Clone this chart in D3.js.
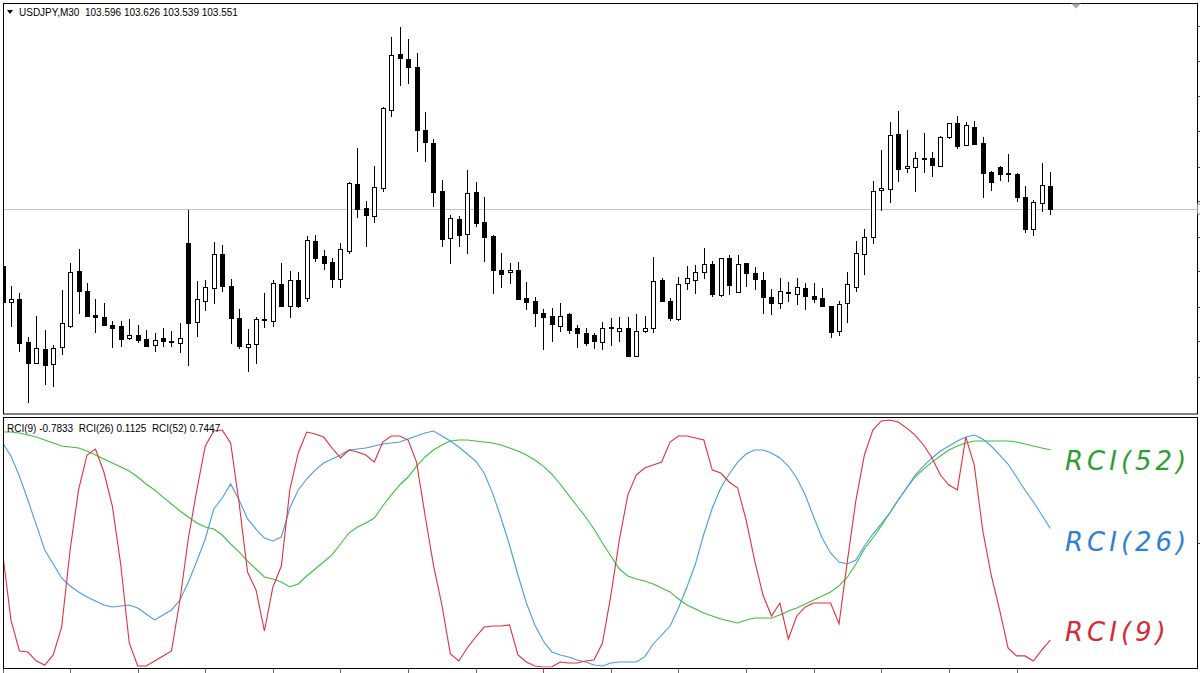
<!DOCTYPE html>
<html><head><meta charset="utf-8">
<script src="https://cdn.jsdelivr.net/npm/d3@7"></script>
<style>body{margin:0;background:#fff;}svg{display:block}</style>
</head><body>
<svg id="chart" width="1200" height="673"></svg>
<script>
const symbolLabel = "USDJPY,M30";
const lastQuote = ["103.596", "103.626", "103.539", "103.551"];
const indicatorLabel = "RCI(9) -0.7833  RCI(26) 0.1125  RCI(52) 0.7447";
const seriesNames = ["RCI(9)", "RCI(26)", "RCI(52)"];

const opens = [103.437,103.365,103.371,103.285,103.243,103.271,103.241,103.275,103.317,103.427,
103.387,103.339,103.335,103.319,103.317,103.293,103.299,103.291,103.279,103.293,
103.287,103.283,103.483,103.325,103.367,103.393,103.461,103.397,103.333,103.275,
103.281,103.331,103.327,103.401,103.357,103.409,103.373,103.487,103.457,103.445,
103.411,103.467,103.601,103.553,103.537,103.593,103.749,103.861,103.851,103.835,
103.709,103.683,103.587,103.493,103.531,103.501,103.585,103.525,103.497,103.429,
103.425,103.429,103.373,103.367,103.343,103.337,103.317,103.341,103.313,103.303,
103.299,103.285,103.315,103.307,103.313,103.257,103.307,103.313,103.409,103.367,
103.331,103.403,103.409,103.425,103.441,103.379,103.453,103.385,103.443,103.423,
103.409,103.375,103.363,103.385,103.381,103.393,103.377,103.373,103.357,103.307,
103.363,103.395,103.461,103.495,103.589,103.591,103.701,103.633,103.635,103.653,
103.653,103.637,103.695,103.723,103.679,103.715,103.683,103.625,103.635,103.623,
103.621,103.575,103.511,103.563,103.596];
const highs = [103.439,103.397,103.383,103.295,103.337,103.309,103.279,103.389,103.443,103.471,
103.403,103.371,103.363,103.327,103.327,103.331,103.319,103.309,103.303,103.313,
103.307,103.323,103.549,103.407,103.409,103.485,103.479,103.411,103.351,103.311,
103.335,103.383,103.409,103.443,103.427,103.425,103.497,103.499,103.469,103.453,
103.483,103.605,103.673,103.567,103.637,103.755,103.895,103.915,103.891,103.863,
103.745,103.691,103.609,103.539,103.537,103.629,103.605,103.575,103.499,103.463,
103.443,103.445,103.405,103.375,103.351,103.353,103.363,103.343,103.319,103.313,
103.303,103.325,103.333,103.335,103.335,103.341,103.337,103.455,103.413,103.373,
103.415,103.437,103.439,103.473,103.447,103.453,103.459,103.459,103.443,103.435,
103.425,103.391,103.413,103.405,103.413,103.403,103.403,103.393,103.357,103.367,
103.425,103.487,103.511,103.607,103.669,103.725,103.747,103.709,103.665,103.703,
103.665,103.697,103.723,103.737,103.725,103.727,103.695,103.627,103.637,103.661,
103.623,103.597,103.569,103.643,103.626];
const lows = [103.333,103.315,103.265,103.163,103.243,103.199,103.195,103.259,103.313,103.341,
103.335,103.303,103.317,103.273,103.275,103.289,103.283,103.275,103.265,103.275,
103.275,103.263,103.237,103.295,103.347,103.361,103.385,103.281,103.271,103.225,
103.241,103.313,103.315,103.357,103.333,103.353,103.365,103.445,103.429,103.393,
103.393,103.461,103.533,103.475,103.523,103.585,103.735,103.797,103.801,103.665,
103.645,103.555,103.475,103.441,103.475,103.461,103.515,103.445,103.381,103.393,
103.401,103.369,103.349,103.315,103.269,103.285,103.305,103.301,103.273,103.277,
103.271,103.269,103.277,103.285,103.257,103.255,103.303,103.303,103.365,103.327,
103.327,103.389,103.381,103.411,103.375,103.375,103.379,103.383,103.395,103.389,
103.341,103.339,103.351,103.365,103.359,103.349,103.363,103.357,103.293,103.297,
103.323,103.385,103.419,103.481,103.547,103.563,103.605,103.623,103.585,103.623,
103.615,103.637,103.691,103.671,103.677,103.679,103.573,103.587,103.607,103.605,
103.565,103.503,103.497,103.545,103.539];
const closes = [103.365,103.371,103.283,103.243,103.273,103.239,103.273,103.323,103.425,103.387,
103.337,103.335,103.319,103.313,103.291,103.299,103.289,103.277,103.289,103.287,
103.285,103.293,103.323,103.371,103.395,103.461,103.397,103.333,103.277,103.281,
103.331,103.329,103.403,103.357,103.409,103.357,103.489,103.453,103.443,103.411,
103.471,103.603,103.551,103.539,103.595,103.753,103.859,103.853,103.835,103.709,
103.685,103.585,103.491,103.533,103.499,103.583,103.523,103.495,103.429,103.421,
103.429,103.371,103.365,103.343,103.335,103.321,103.337,103.309,103.303,103.283,
103.287,103.313,103.313,103.313,103.257,103.307,103.313,103.407,103.367,103.333,
103.401,103.413,103.425,103.441,103.381,103.453,103.399,103.441,103.423,103.411,
103.375,103.363,103.387,103.383,103.395,103.377,103.371,103.357,103.305,103.361,
103.401,103.463,103.495,103.587,103.593,103.699,103.631,103.637,103.653,103.651,
103.639,103.695,103.723,103.677,103.719,103.681,103.623,103.605,103.621,103.621,
103.575,103.511,103.565,103.599,103.551];

const rci9 = [-0.076,-0.622,-0.871,-0.880,-0.952,-0.984,-0.903,-0.679,-0.060,0.422,
0.703,0.751,0.566,0.293,-0.181,-0.807,-0.992,-0.992,-0.952,-0.911,
-0.871,-0.462,0.036,0.422,0.775,0.895,0.903,0.799,0.317,-0.237,
-0.381,-0.711,-0.357,-0.189,0.422,0.719,0.887,0.871,0.847,0.759,
0.679,0.743,0.727,0.703,0.646,0.807,0.855,0.855,0.823,0.646,
0.221,-0.181,-0.502,-0.895,-0.952,-0.847,-0.759,-0.679,-0.671,-0.671,
-0.662,-0.903,-0.960,-0.992,-1.0,-1.0,-0.960,-0.968,-0.968,-0.952,
-0.944,-0.807,-0.422,0.020,0.381,0.542,0.598,0.622,0.646,0.807,
0.855,0.855,0.839,0.823,0.582,0.558,0.486,0.438,0.181,-0.141,
-0.422,-0.590,-0.486,-0.775,-0.590,-0.518,-0.486,-0.486,-0.486,-0.654,
-0.141,0.341,0.703,0.903,0.976,0.984,0.968,0.919,0.863,0.783,
0.679,0.542,0.462,0.422,0.847,0.622,0.100,-0.261,-0.542,-0.847,
-0.911,-0.911,-0.952,-0.863,-0.7833];
const rci26 = [0.799,0.695,0.534,0.341,0.141,-0.060,-0.173,-0.285,-0.349,-0.397,
-0.438,-0.470,-0.502,-0.518,-0.510,-0.502,-0.526,-0.574,-0.622,-0.582,
-0.542,-0.462,-0.317,-0.149,0.028,0.269,0.357,0.470,0.341,0.189,
0.108,0.036,0.012,0.044,0.277,0.422,0.510,0.582,0.638,0.671,
0.703,0.743,0.751,0.759,0.775,0.791,0.799,0.807,0.831,0.855,
0.879,0.895,0.855,0.815,0.767,0.711,0.654,0.558,0.397,0.197,
-0.020,-0.261,-0.486,-0.662,-0.791,-0.879,-0.903,-0.919,-0.944,-0.960,
-0.984,-0.992,-0.968,-0.960,-0.960,-0.960,-0.919,-0.815,-0.743,-0.671,
-0.526,-0.357,-0.173,0.068,0.277,0.438,0.550,0.646,0.711,0.743,
0.743,0.719,0.679,0.614,0.518,0.381,0.205,0.036,-0.084,-0.157,
-0.173,-0.141,-0.028,0.068,0.149,0.237,0.341,0.438,0.542,0.614,
0.679,0.735,0.775,0.815,0.847,0.863,0.831,0.775,0.703,0.630,
0.526,0.422,0.325,0.221,0.1125];
const rci52 = [0.887,0.887,0.879,0.863,0.847,0.823,0.799,0.775,0.767,0.759,
0.735,0.703,0.671,0.638,0.606,0.574,0.526,0.470,0.422,0.365,
0.309,0.253,0.205,0.157,0.124,0.108,0.060,-0.012,-0.076,-0.149,
-0.213,-0.277,-0.293,-0.317,-0.357,-0.333,-0.269,-0.213,-0.157,-0.100,
-0.012,0.076,0.124,0.157,0.197,0.293,0.381,0.462,0.526,0.614,
0.687,0.743,0.783,0.815,0.823,0.823,0.815,0.807,0.799,0.783,
0.759,0.735,0.703,0.663,0.614,0.550,0.470,0.381,0.293,0.205,
0.108,-0.004,-0.108,-0.213,-0.269,-0.293,-0.309,-0.333,-0.365,-0.397,
-0.454,-0.502,-0.534,-0.566,-0.590,-0.614,-0.630,-0.646,-0.622,-0.606,
-0.606,-0.606,-0.582,-0.550,-0.526,-0.494,-0.462,-0.430,-0.397,-0.349,
-0.277,-0.173,-0.052,0.036,0.132,0.237,0.341,0.438,0.526,0.590,
0.646,0.695,0.743,0.775,0.799,0.815,0.815,0.815,0.815,0.815,
0.807,0.791,0.775,0.759,0.7447];

const priceTicks = [103.916,103.846,103.776,103.706,103.636,103.566,103.496,103.426,103.356,103.286,103.216];
const rciTicks = [0];
const timeTicks = [0,8,16,24,32,40,48,56,64,72,80,88,96,104,112,120];
const bidPrice = 103.551;

const colors = {rci9: "#e3303c", rci26: "#4a9ae6", rci52: "#3cc03c"};
const labelColors = {rci9: "#d42a32", rci26: "#2f7fd8", rci52: "#2e9e32"};

const svg = d3.select("#chart");
const L = 3, R = 1197, T1 = 3, B1 = 413.5, T2 = 417, B2 = 668;

const x = d3.scaleLinear().domain([0, 124]).range([2.5, 1050.3]);
const yP = d3.scaleLinear().domain([103.143, 103.963]).range([413, 3]);
const yR = d3.scaleLinear().domain([-1, 1]).range([667, 418]);

const defs = svg.append("defs");
defs.append("clipPath").attr("id", "c1").append("rect").attr("x", L+0.5).attr("y", T1+0.5).attr("width", R-L-1).attr("height", B1-T1-1);
defs.append("clipPath").attr("id", "c2").append("rect").attr("x", L+0.5).attr("y", T2+0.5).attr("width", R-L-1).attr("height", B2-T2-1);

// price line
svg.append("line").attr("x1", L).attr("x2", R).attr("y1", Math.round(yP(bidPrice))+0.5).attr("y2", Math.round(yP(bidPrice))+0.5)
  .attr("stroke", "#c4c4c4").attr("stroke-width", 1);

// candles
const idx = d3.range(opens.length);
const gc = svg.append("g").attr("clip-path", "url(#c1)").attr("shape-rendering", "crispEdges");
gc.selectAll("line.wick").data(idx).join("line").attr("class", "wick")
  .attr("x1", i => Math.round(x(i)) + 0.5).attr("x2", i => Math.round(x(i)) + 0.5)
  .attr("y1", i => yP(highs[i])).attr("y2", i => yP(lows[i]))
  .attr("stroke", "#000").attr("stroke-width", 1);
gc.selectAll("rect.body").data(idx).join("rect").attr("class", "body")
  .attr("x", i => Math.round(x(i)) - 2 + 0.5)
  .attr("width", 4)
  .attr("y", i => Math.round(yP(Math.max(opens[i], closes[i]))) + 0.5)
  .attr("height", i => Math.max(1, Math.round(Math.abs(yP(opens[i]) - yP(closes[i])))))
  .attr("fill", i => closes[i] < opens[i] ? "#000" : "#fff")
  .attr("stroke", "#000").attr("stroke-width", 1);

// RCI lines
const g2 = svg.append("g").attr("clip-path", "url(#c2)");
const line = d3.line().x((d, i) => x(i)).y(d => yR(d));
[[rci52, colors.rci52], [rci26, colors.rci26], [rci9, colors.rci9]].forEach(([s, c]) => {
  g2.append("path").datum(s).attr("d", line).attr("fill", "none").attr("stroke", c).attr("stroke-width", 1.1);
});

// frames
svg.append("rect").attr("x", L+0.5).attr("y", T1+0.5).attr("width", R-L).attr("height", B1-T1)
  .attr("fill", "none").attr("stroke", "#000").attr("stroke-width", 1);
svg.append("rect").attr("x", L+0.5).attr("y", T2+0.5).attr("width", R-L).attr("height", B2-T2)
  .attr("fill", "none").attr("stroke", "#000").attr("stroke-width", 1);

// right ticks (price)
svg.append("g").selectAll("line").data(priceTicks).join("line")
  .attr("x1", R+0.5).attr("x2", 1200).attr("y1", d => Math.round(yP(d))+0.5).attr("y2", d => Math.round(yP(d))+0.5)
  .attr("stroke", "#444");
svg.append("g").selectAll("line").data(rciTicks).join("line")
  .attr("x1", R+0.5).attr("x2", 1200).attr("y1", d => Math.round(yR(d))+0.5).attr("y2", d => Math.round(yR(d))+0.5)
  .attr("stroke", "#444");
// bid marker
svg.append("rect").attr("x", R+0.5).attr("y", yP(bidPrice)-5).attr("width", 4).attr("height", 10)
  .attr("fill", "#fff").attr("stroke", "#888");

// bottom time ticks
svg.append("g").selectAll("line").data(timeTicks).join("line")
  .attr("x1", d => Math.round(x(d))+0.5).attr("x2", d => Math.round(x(d))+0.5)
  .attr("y1", B2+0.5).attr("y2", 673).attr("stroke", "#666");

// shift marker triangle
svg.append("path").attr("d", "M1071,3.5 L1081,3.5 L1076,8.5 Z").attr("fill", "#a8a8a8");

// header texts
svg.append("path").attr("d", "M7,10 L13,10 L10,14 Z").attr("fill", "#000");
svg.append("text").attr("x", 19).attr("y", 16)
  .attr("font-family", "Liberation Sans, Arial, sans-serif").attr("font-size", 10).attr("fill", "#000")
  .attr("xml:space", "preserve")
  .text(symbolLabel + "  " + lastQuote.join(" "));
svg.append("text").attr("x", 7).attr("y", 432)
  .attr("font-family", "Liberation Sans, Arial, sans-serif").attr("font-size", 10).attr("fill", "#000")
  .attr("xml:space", "preserve")
  .text(indicatorLabel);

// handwritten-like series labels
const labels = [
  {t: seriesNames[2], y: 470, c: labelColors.rci52},
  {t: seriesNames[1], y: 551, c: labelColors.rci26},
  {t: seriesNames[0], y: 641, c: labelColors.rci9}
];
svg.append("g").selectAll("text").data(labels).join("text")
  .attr("x", 1065).attr("y", d => d.y)
  .attr("font-family", "DejaVu Sans, sans-serif").attr("font-style", "italic")
  .attr("font-size", 26).attr("letter-spacing", 4).attr("fill", d => d.c)
  .text(d => d.t);
</script>
</body></html>
